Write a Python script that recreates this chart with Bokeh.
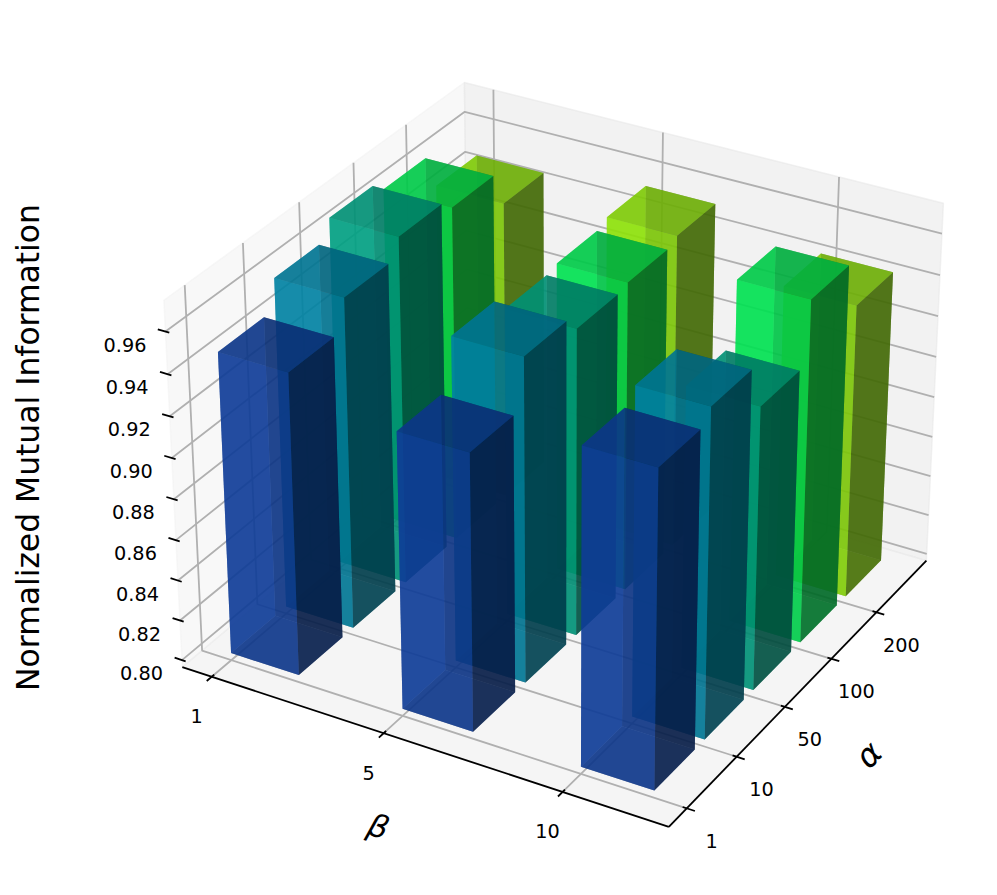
import numpy as np
from bokeh.plotting import figure
from bokeh.models import Range1d
from bokeh.embed import file_html
from bokeh.resources import INLINE
from bokeh.core.properties import value

beta_labels = ["1", "5", "10"]
alpha_labels = ["1", "10", "50", "100", "200"]
z_ticks = [0.80, 0.82, 0.84, 0.86, 0.88, 0.90, 0.92, 0.94, 0.96]
nmi_beta1 = [0.9474, 0.9620, 0.9710, 0.9656, 0.9484]
nmi_beta5 = [0.9346, 0.9580, 0.9505, 0.9522, 0.9550]
nmi_beta10 = [0.9530, 0.9592, 0.9379, 0.9673, 0.9443]
alpha_colors = [(16, 68, 172), (0, 147, 184), (0, 182, 147), (0, 255, 92), (160, 255, 10)]

BAR_ALPHA = 0.7
DX, DY = 0.4, 0.8
XLIM = (-0.12, 2.52)
YLIM = (-0.24, 5.04)
ZLIM = (0.80, 0.971)

# mplot3d-style view: elev 30, azim -60, box aspect 4:4:3
SCALE, CX, CY = 4493.0, 561.0, 435.5
aspect = np.array([4.0, 4.0, 3.0])
box = aspect * 1.8294640721620434 * 25 / 24 / np.linalg.norm(aspect)
R = box / 2
el, az = np.radians(30), np.radians(-60)
W = np.array([np.cos(el) * np.cos(az), np.cos(el) * np.sin(az), np.sin(el)])
U = np.cross([0, 0, 1], W)
U = U / np.linalg.norm(U)
V = np.cross(W, U)
DIST = 10.0


def project(x, y, z):
    d = np.array([(x - XLIM[0]) / (XLIM[1] - XLIM[0]),
                  (y - YLIM[0]) / (YLIM[1] - YLIM[0]),
                  (z - ZLIM[0]) / (ZLIM[1] - ZLIM[0])]) * box - R
    depth = DIST - d @ W
    return (d @ U) / depth, (d @ V) / depth, depth


def poly(points):
    pr = [project(*pt) for pt in points]
    return [q[0] for q in pr], [q[1] for q in pr], float(np.mean([1 / q[2] for q in pr]))


pad = lambda lim: (lim[0] - (lim[1] - lim[0]) / 48, lim[1] + (lim[1] - lim[0]) / 48)
PX, PY, PZ = pad(XLIM), pad(YLIM), pad(ZLIM)

p = figure(width=981, height=879, output_backend="svg", toolbar_location=None,
           x_range=Range1d((0 - CX) / SCALE, (981 - CX) / SCALE),
           y_range=Range1d((CY - 879) / SCALE, (CY - 0) / SCALE),
           min_border=0, outline_line_color=None, background_fill_color="white")
p.axis.visible = False
p.grid.visible = False

# panes
panes = [
    ([(PX[0], PY[0], PZ[0]), (PX[0], PY[1], PZ[0]), (PX[0], PY[1], PZ[1]), (PX[0], PY[0], PZ[1])], "#f2f2f2"),
    ([(PX[0], PY[1], PZ[0]), (PX[1], PY[1], PZ[0]), (PX[1], PY[1], PZ[1]), (PX[0], PY[1], PZ[1])], "#e6e6e6"),
    ([(PX[0], PY[0], PZ[0]), (PX[1], PY[0], PZ[0]), (PX[1], PY[1], PZ[0]), (PX[0], PY[1], PZ[0])], "#ececec"),
]
for pts, col in panes:
    xs, ys, _ = poly(pts)
    p.patch(xs, ys, fill_color=col, fill_alpha=0.5, line_color=col, line_alpha=0.5, line_width=1.4)

# grid
gx, gy = [], []
def add_line(pts):
    xs, ys, _ = poly(pts)
    gx.append(xs)
    gy.append(ys)

for i in range(len(beta_labels)):
    add_line([(i, PY[0], PZ[0]), (i, PY[1], PZ[0]), (i, PY[1], PZ[1])])
for j in range(len(alpha_labels)):
    add_line([(PX[1], j, PZ[0]), (PX[0], j, PZ[0]), (PX[0], j, PZ[1])])
for t in z_ticks:
    add_line([(PX[0], PY[0], t), (PX[0], PY[1], t), (PX[1], PY[1], t)])
p.multi_line(gx, gy, line_color="#b0b0b0", line_width=1.8)

# axis lines and ticks
ax, ay = [], []
for pts in ([(PX[0], PY[0], PZ[0]), (PX[1], PY[0], PZ[0])], [(PX[1], PY[0], PZ[0]), (PX[1], PY[1], PZ[0])]):
    xs, ys, _ = poly(pts)
    ax.append(xs); ay.append(ys)
ydl, xdl = (YLIM[1] - YLIM[0]) / 12, (XLIM[1] - XLIM[0]) / 12
for i in range(len(beta_labels)):
    xs, ys, _ = poly([(i, PY[0] - 0.2 * ydl, PZ[0]), (i, PY[0] + 0.1 * ydl, PZ[0])])
    ax.append(xs); ay.append(ys)
for j in range(len(alpha_labels)):
    xs, ys, _ = poly([(PX[1] + 0.2 * xdl, j, PZ[0]), (PX[1] - 0.1 * xdl, j, PZ[0])])
    ax.append(xs); ay.append(ys)
for t in z_ticks:
    xs, ys, _ = poly([(PX[0] - 0.2 * xdl, PY[0], t), (PX[0] + 0.1 * xdl, PY[0], t)])
    ax.append(xs); ay.append(ys)
p.multi_line(ax, ay, line_color="black", line_width=1.8)

# bars: each bar painted whole, far bars first; faces sorted inside a bar
bars = []
for i, row in enumerate([nmi_beta1, nmi_beta5, nmi_beta10]):
    for j, top in enumerate(row):
        x0, x1, y0, y1, z0, z1 = i, i + DX, j, j + DY, ZLIM[0], top
        quads = [
            ([(x0, y0, z0), (x1, y0, z0), (x1, y0, z1), (x0, y0, z1)], 0.883),
            ([(x0, y0, z0), (x0, y1, z0), (x0, y1, z1), (x0, y0, z1)], 0.883),
            ([(x0, y0, z1), (x1, y0, z1), (x1, y1, z1), (x0, y1, z1)], 0.767),
            ([(x0, y0, z0), (x1, y0, z0), (x1, y1, z0), (x0, y1, z0)], 0.533),
            ([(x1, y0, z0), (x1, y1, z0), (x1, y1, z1), (x1, y0, z1)], 0.417),
            ([(x0, y1, z0), (x1, y1, z0), (x1, y1, z1), (x0, y1, z1)], 0.417),
        ]
        r, g, b = alpha_colors[j]
        faces = []
        nearest = min(project(x, y, z)[2] for x in (x0, x1) for y in (y0, y1) for z in (z0, z1))
        for pts, s in quads:
            xs, ys, key = poly(pts)
            faces.append((key, xs, ys, "#%02x%02x%02x" % (int(r * s), int(g * s), int(b * s))))
        faces.sort(key=lambda f: f[0])
        bars.append((nearest, faces))
bars.sort(key=lambda b: -b[0])
ordered = [f for _, fs in bars for f in fs]
p.patches([f[1] for f in ordered], [f[2] for f in ordered], fill_color=[f[3] for f in ordered],
          fill_alpha=BAR_ALPHA, line_color=None)

# tick labels
FONT = value("DejaVu Sans")
TICK_PX = "19.3px"
def labels(points, texts, dx, dy):
    pr = [project(*pt) for pt in points]
    p.text([q[0] for q in pr], [q[1] for q in pr], text=texts, x_offset=dx, y_offset=dy,
           text_font=FONT, text_font_size=TICK_PX, text_align="center", text_baseline="middle", text_color="black")

labels([(i, PY[0], PZ[0]) for i in range(len(beta_labels))], beta_labels, -15, 39.5)
labels([(PX[1], j, PZ[0]) for j in range(len(alpha_labels))], alpha_labels, 25, 32.5)
labels([(PX[0], PY[0], t) for t in z_ticks], ["%.2f" % t for t in z_ticks], -40.5, 13)

# axis titles
def to_data(px, py):
    return (px - CX) / SCALE, (CY - py) / SCALE

tx, ty = to_data(27, 447)
p.text([tx], [ty], text=["Normalized Mutual Information"], angle=np.pi / 2, text_font=FONT,
       text_font_size="31.4px", text_align="center", text_baseline="middle", text_color="black")
tx, ty = to_data(378, 826)
p.text([tx], [ty], text=["β"], angle=np.radians(-18), text_font=FONT, text_font_style="italic",
       text_font_size="31.4px", text_align="center", text_baseline="middle", text_color="black")
tx, ty = to_data(868, 754)
p.text([tx], [ty], text=["α"], angle=np.radians(46), text_font=FONT, text_font_style="italic",
       text_font_size="33px", text_align="center", text_baseline="middle", text_color="black")

open("out.html", "w").write(file_html(p, INLINE))
